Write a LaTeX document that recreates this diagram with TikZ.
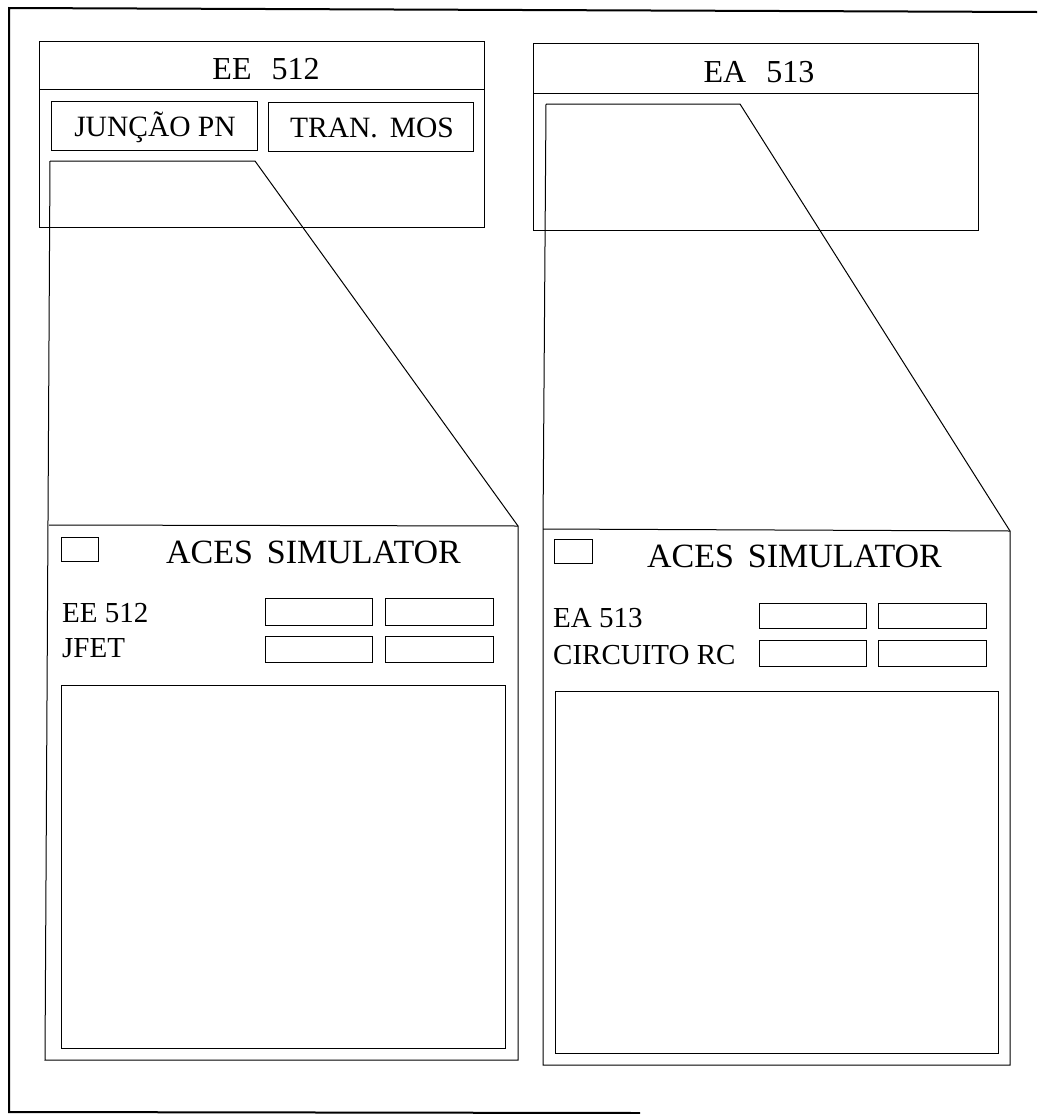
\documentclass[tikz,border=0pt]{standalone}
\usepackage{fontspec}
\setmainfont{Liberation Serif}
\begin{document}
\begin{tikzpicture}[x=1pt,y=-1pt,
  thinline/.style={line width=1pt},
  framebox/.style={draw, line width=1pt, inner sep=0pt, outer sep=0pt},
  titletext/.style={font=\fontsize{32}{36}\selectfont, inner sep=0pt, anchor=base},
  btntext/.style={font=\fontsize{29.5}{33}\selectfont, inner sep=0pt, anchor=base},
  acestext/.style={font=\fontsize{34}{38}\selectfont, inner sep=0pt, anchor=base},
  labeltext/.style={font=\fontsize{29}{33}\selectfont, inner sep=0pt, anchor=base west}]
\useasboundingbox (0,0) rectangle (1037,1114);

% outer frame (open on the right)
\coordinate (f1) at (1037,12);
\coordinate (f2) at (9,8);
\coordinate (f3) at (9,1112);
\coordinate (f4) at (640,1113);
\draw[line width=2pt] (f1) -- (f2) -- (f3) -- (f4);

% ---------------- left module ----------------
\node[framebox, minimum width=445pt, minimum height=186pt] (eebox) at (261.5,134) {};
\coordinate (eesepL) at (39,89);
\coordinate (eesepR) at (484,89);
\draw[thinline] (eesepL) -- (eesepR);
\node[titletext] (eetitle) at (266,79.5) {EE\hspace{20pt}512};
\node[framebox, minimum width=206pt, minimum height=49pt] (jun) at (154,125.5) {};
\node[btntext] (juntext) at (155,136) {JUNÇÃO PN};
\node[framebox, minimum width=205pt, minimum height=49pt] (tran) at (370.5,126.5) {};
\node[btntext] (trantext) at (372,137) {TRAN.\hspace{12pt}MOS};

% zoom outline left
\coordinate (la) at (50,161);
\coordinate (lb) at (255,161);
\coordinate (lc) at (518,526);
\coordinate (ld) at (518,1060);
\coordinate (le) at (45,1060);
\coordinate (lf) at (49,525);
\draw[thinline] (la) -- (lb) -- (lc) -- (ld) -- (le) -- (la);
\draw[thinline] (lf) -- (lc);

\node[framebox, minimum width=37pt, minimum height=24pt] (lsq) at (79.5,549) {};
\node[acestext] (laces) at (313.5,563) {ACES\hspace{14pt}SIMULATOR};
\node[labeltext] (lee) at (62,622) {EE 512};
\node[labeltext] (ljfet) at (62,657) {JFET};
\node[framebox, minimum width=107pt, minimum height=27pt] (lb11) at (318.5,611.5) {};
\node[framebox, minimum width=108pt, minimum height=27pt] (lb12) at (439,611.5) {};
\node[framebox, minimum width=107pt, minimum height=26pt] (lb21) at (318.5,649) {};
\node[framebox, minimum width=108pt, minimum height=26pt] (lb22) at (439,649) {};
\node[framebox, minimum width=444pt, minimum height=363pt] (lbig) at (283,866.5) {};

% ---------------- right module ----------------
\node[framebox, minimum width=445pt, minimum height=187pt] (eabox) at (755.5,136.5) {};
\coordinate (easepL) at (533,93);
\coordinate (easepR) at (978,93);
\draw[thinline] (easepL) -- (easepR);
\node[titletext] (eatitle) at (759,82) {EA\hspace{20pt}513};

\coordinate (ra) at (546,104);
\coordinate (rb) at (740,104);
\coordinate (rc) at (1010,531);
\coordinate (rd) at (1010,1065);
\coordinate (re) at (543,1065);
\coordinate (rf) at (543,529);
\draw[thinline] (ra) -- (rb) -- (rc) -- (rd) -- (re) -- (rf) -- (ra);
\draw[thinline] (rf) -- (rc);

\node[framebox, minimum width=38pt, minimum height=24pt] (rsq) at (573,551) {};
\node[acestext] (races) at (794.5,567) {ACES\hspace{14pt}SIMULATOR};
\node[labeltext] (rea) at (553,627) {EA 513};
\node[labeltext] (rrc) at (553,664) {CIRCUITO RC};
\node[framebox, minimum width=107pt, minimum height=25pt] (rb11) at (812.5,615.5) {};
\node[framebox, minimum width=108pt, minimum height=25pt] (rb12) at (932,615.5) {};
\node[framebox, minimum width=107pt, minimum height=26pt] (rb21) at (812.5,653) {};
\node[framebox, minimum width=108pt, minimum height=26pt] (rb22) at (932,653) {};
\node[framebox, minimum width=443pt, minimum height=362pt] (rbig) at (776.5,872) {};
\end{tikzpicture}
\end{document}
